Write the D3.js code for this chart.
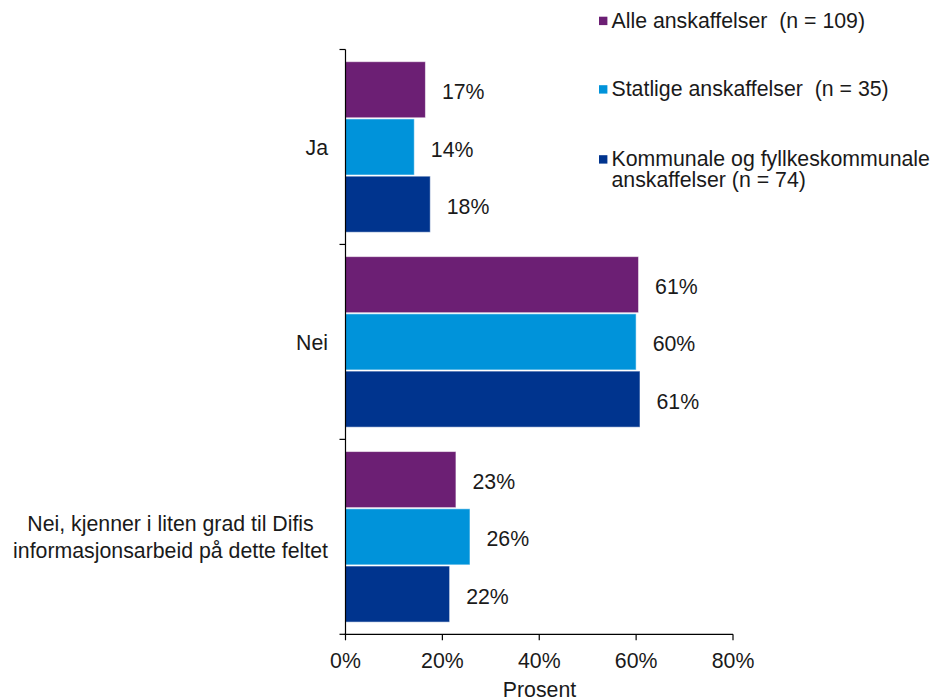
<!DOCTYPE html>
<html><head><meta charset="utf-8">
<script src="https://cdn.jsdelivr.net/npm/d3@7"></script>
<style>body{margin:0;background:#fff}svg{display:block;font-family:"Liberation Sans",Arial,sans-serif}text{white-space:pre}</style>
</head><body><svg id="c" width="933" height="700"></svg>
<script>
const categories = [["Ja"], ["Nei"], ["Nei, kjenner i liten grad til Difis", "informasjonsarbeid på dette feltet"]];
const seriesNames = [["Alle anskaffelser  (n = 109)"], ["Statlige anskaffelser  (n = 35)"], ["Kommunale og fyllkeskommunale", "anskaffelser (n = 74)"]];
const seriesColors = ["#6C1F74", "#0093DA", "#00348E"];
const alleValues = [16.5, 60.5, 22.8];
const statligeValues = [14.2, 60.0, 25.7];
const kommunaleValues = [17.5, 60.8, 21.5];
const alleLabels = ["17%", "61%", "23%"];
const statligeLabels = ["14%", "60%", "26%"];
const kommunaleLabels = ["18%", "61%", "22%"];
const xTicks = [0, 20, 40, 60, 80];
const xTitle = "Prosent";

const values = [alleValues, statligeValues, kommunaleValues];
const labels = [alleLabels, statligeLabels, kommunaleLabels];
const svg = d3.select("#c");
const fs = 21.3;
const x = d3.scaleLinear().domain([0, 80]).range([345.5, 733]);
const y = d3.scaleBand().domain(d3.range(categories.length)).range([49.5, 634.3]).paddingInner(0.125).paddingOuter(0.0625);
const ys = d3.scaleBand().domain(d3.range(3)).range([0, y.bandwidth()]).paddingInner(0.02);

const g = svg.append("g");
categories.forEach((c, ci) => {
  values.forEach((vals, si) => {
    const y0 = y(ci) + ys(si);
    g.append("rect").attr("x", x(0)).attr("y", y0).attr("width", x(vals[ci]) - x(0)).attr("height", ys.bandwidth())
      .attr("fill", seriesColors[si]).attr("stroke", "#ffffff").attr("stroke-opacity", 0.55).attr("stroke-width", 1);
    g.append("text").attr("x", x(vals[ci]) + 16.5).attr("y", y0 + ys.bandwidth() / 2).attr("dy", "0.45em")
      .attr("font-size", fs).attr("fill", "#1a1a1a").text(labels[si][ci]);
  });
});

// axes
const axisY = y.range()[1];
const yTop = y.range()[0];
const stepC = (y.range()[1] - y.range()[0]) / categories.length;
svg.append("line").attr("x1", x(0)).attr("x2", x(0)).attr("y1", yTop).attr("y2", axisY).attr("stroke", "#000").attr("stroke-width", 1.2);
d3.range(categories.length + 1).forEach(i => {
  const ty = yTop + i * stepC;
  svg.append("line").attr("x1", x(0) - 6).attr("x2", x(0)).attr("y1", ty).attr("y2", ty).attr("stroke", "#000").attr("stroke-width", 1.2);
});
svg.append("line").attr("x1", x(0) - 1).attr("x2", x(80)).attr("y1", axisY).attr("y2", axisY).attr("stroke", "#000").attr("stroke-width", 1.2);
xTicks.forEach(t => {
  svg.append("line").attr("x1", x(t)).attr("x2", x(t)).attr("y1", axisY).attr("y2", axisY + 6).attr("stroke", "#000").attr("stroke-width", 1.2);
  svg.append("text").attr("x", x(t)).attr("y", 667.7).attr("text-anchor", "middle").attr("font-size", fs).attr("fill", "#1a1a1a").text(t + "%");
});
svg.append("text").attr("x", 539.5).attr("y", 696.8).attr("text-anchor", "middle").attr("font-size", fs).attr("fill", "#1a1a1a").text(xTitle);

// category labels
categories.forEach((lines, ci) => {
  const cy = y(ci) + y.bandwidth() / 2;
  const t = svg.append("text").attr("font-size", fs).attr("fill", "#1a1a1a").attr("text-anchor", "middle");
  const lh = 27;
  const widths = lines.map(l => { const tt = svg.append("text").attr("font-size", fs).text(l); const w = tt.node().getComputedTextLength(); tt.remove(); return w; });
  const maxW = d3.max(widths);
  const cx = 328 - maxW / 2;
  lines.forEach((l, li) => {
    t.append("tspan").attr("x", cx).attr("y", cy + (li - (lines.length - 1) / 2) * lh).attr("dy", "0.38em").text(l);
  });
});

// legend
const legendY = [21, 89.5, 159.5];
seriesNames.forEach((lines, si) => {
  svg.append("rect").attr("x", 599).attr("y", legendY[si] - 4.3).attr("width", 8.4).attr("height", 8.4).attr("fill", seriesColors[si]);
  const t = svg.append("text").attr("font-size", fs).attr("fill", "#1a1a1a");
  lines.forEach((l, li) => {
    t.append("tspan").attr("x", 611.5).attr("y", legendY[si] + 6.8 + li * 21).text(l);
  });
});
</script></body></html>
